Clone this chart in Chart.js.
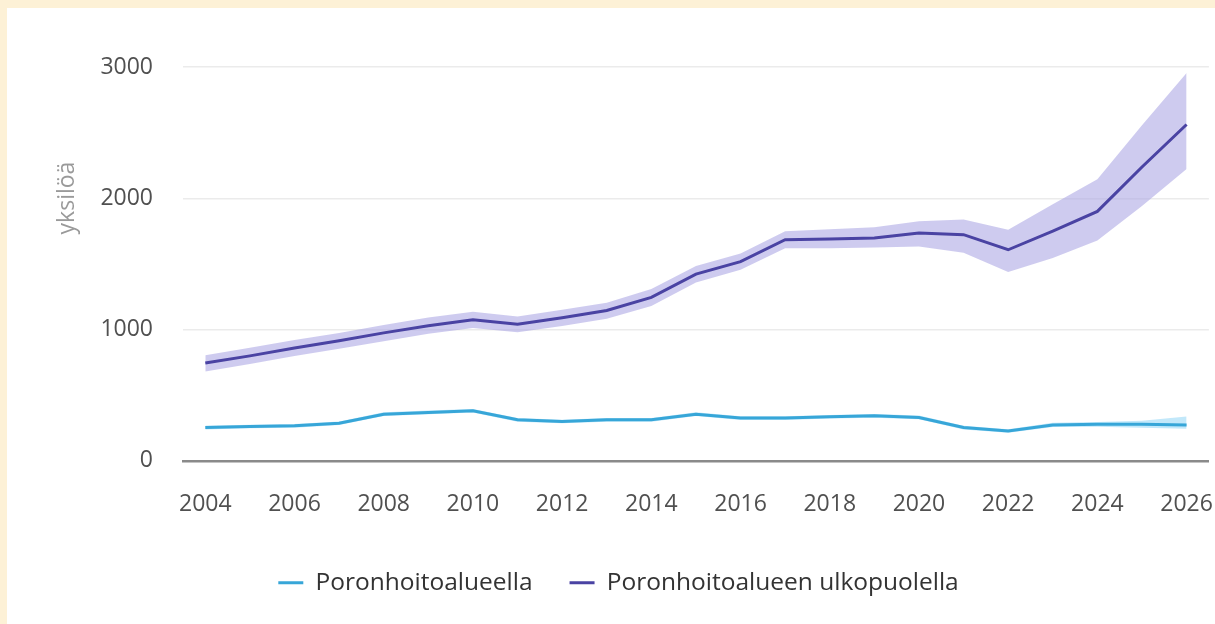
<!DOCTYPE html>
<html>
<head>
<meta charset="utf-8">
<script src="https://cdn.jsdelivr.net/npm/chart.js@4.4.1/dist/chart.umd.min.js"></script>
<style>
  html, body { margin: 0; padding: 0; }
  body { width: 1215px; height: 624px; background: #fdf1d6; position: relative; overflow: hidden; font-family: "Open Sans", sans-serif; }
  #paneeli { position: absolute; left: 7px; top: 8px; width: 1208px; height: 616px; background: #fff; overflow: hidden; }
  #yOtsikko { position: absolute; left: 8px; top: 174px; width: 100px; text-align: center; transform: rotate(-90deg); color: #9a9a9a; font-size: 23px; }
  canvas { position: absolute; left: 0; top: 0; }
</style>
</head>
<body>
<div id="paneeli">
  <canvas id="kaavio" width="1228" height="616"></canvas>
  <div id="yOtsikko">yksilöä</div>
</div>
<script>
// vuodet ja arviot luettu kuvasta
const vuodet = ['2004','2005','2006','2007','2008','2009','2010','2011','2012','2013','2014','2015','2016','2017','2018','2019','2020','2021','2022','2023','2024','2025','2026'];

const sisalla = [254, 262, 267, 287, 356, 369, 382, 313, 300, 313, 313, 356, 326, 326, 336, 343, 331, 254, 228, 274, 279, 279, 274];
const sisallaYla = [268, 276, 281, 301, 370, 383, 396, 327, 314, 327, 327, 370, 340, 340, 350, 357, 345, 268, 242, 290, 297, 305, 338];
const sisallaAla = [240, 248, 253, 273, 342, 355, 368, 299, 286, 299, 299, 342, 312, 312, 322, 329, 317, 240, 214, 258, 261, 253, 244];

const ulkona = [746, 800, 860, 915, 975, 1030, 1075, 1040, 1090, 1145, 1245, 1423, 1518, 1685, 1690, 1697, 1736, 1723, 1608, 1750, 1900, 2238, 2562];
const ulkonaYla = [805, 862, 920, 975, 1035, 1092, 1135, 1100, 1152, 1205, 1310, 1485, 1580, 1750, 1765, 1780, 1826, 1838, 1761, 1954, 2146, 2556, 2954];
const ulkonaAla = [680, 738, 798, 855, 912, 968, 1012, 980, 1028, 1082, 1180, 1358, 1455, 1620, 1620, 1625, 1633, 1585, 1438, 1546, 1679, 1941, 2223];

const yTicks = [0, 1000, 2000, 3000];

const syaani = '#37a6d8';
const violetti = '#4a43a3';

// pääviivat ensin, jotta ne piirtyvät vyöhykkeiden päälle
const datasets = [
  { label: 'Poronhoitoalueella', data: sisalla, borderColor: syaani, backgroundColor: syaani, borderWidth: 3, pointRadius: 0, fill: false },
  { label: 'Poronhoitoalueen ulkopuolella', data: ulkona, borderColor: violetti, backgroundColor: violetti, borderWidth: 3, pointRadius: 0, fill: false },
  { label: 'ala1', data: sisallaAla, borderWidth: 0, pointRadius: 0, fill: false, backgroundColor: 'rgba(0,0,0,0)' },
  { label: 'yla1', data: sisallaYla, borderWidth: 0, pointRadius: 0, fill: '-1', backgroundColor: 'rgba(120, 205, 245, 0.45)' },
  { label: 'ala2', data: ulkonaAla, borderWidth: 0, pointRadius: 0, fill: false, backgroundColor: 'rgba(0,0,0,0)' },
  { label: 'yla2', data: ulkonaYla, borderWidth: 0, pointRadius: 0, fill: '-1', backgroundColor: 'rgba(170, 165, 228, 0.58)' }
];

new Chart(document.getElementById('kaavio'), {
  type: 'line',
  data: { labels: vuodet, datasets: datasets },
  options: {
    responsive: false,
    animation: false,
    layout: { padding: { top: 59, right: 5, bottom: 19, left: 0 } },
    plugins: {
      tooltip: { enabled: false },
      legend: {
        position: 'bottom',
        labels: {
          filter: (item) => item.datasetIndex < 2,
          usePointStyle: true,
          pointStyle: 'line',
          pointStyleWidth: 25,
          padding: 37,
          color: '#333',
          font: { family: 'Open Sans', size: 24.5 }
        }
      }
    },
    scales: {
      x: {
        type: 'category',
        offset: true,
        afterFit: (s) => { s.height -= 7; },
        grid: { display: false },
        border: { display: true, color: '#8a8a8a', width: 2.5 },
        ticks: {
          autoSkip: false,
          maxRotation: 0,
          padding: 22,
          color: '#505050',
          font: { family: 'Open Sans', size: 23 },
          callback: (v, i) => (i % 2 === 0 ? vuodet[i] : '')
        }
      },
      y: {
        min: 0,
        max: 3000,
        afterFit: (s) => { s.width = 176; },
        afterBuildTicks: (s) => { s.ticks = yTicks.map(v => ({ value: v })); },
        grid: { color: '#ebebeb', lineWidth: 1.5, drawTicks: false },
        border: { display: false },
        ticks: {
          padding: 30,
          color: '#505050',
          font: { family: 'Open Sans', size: 23 },
          callback: (v) => String(v)
        }
      }
    }
  }
});
</script>
</body>
</html>
